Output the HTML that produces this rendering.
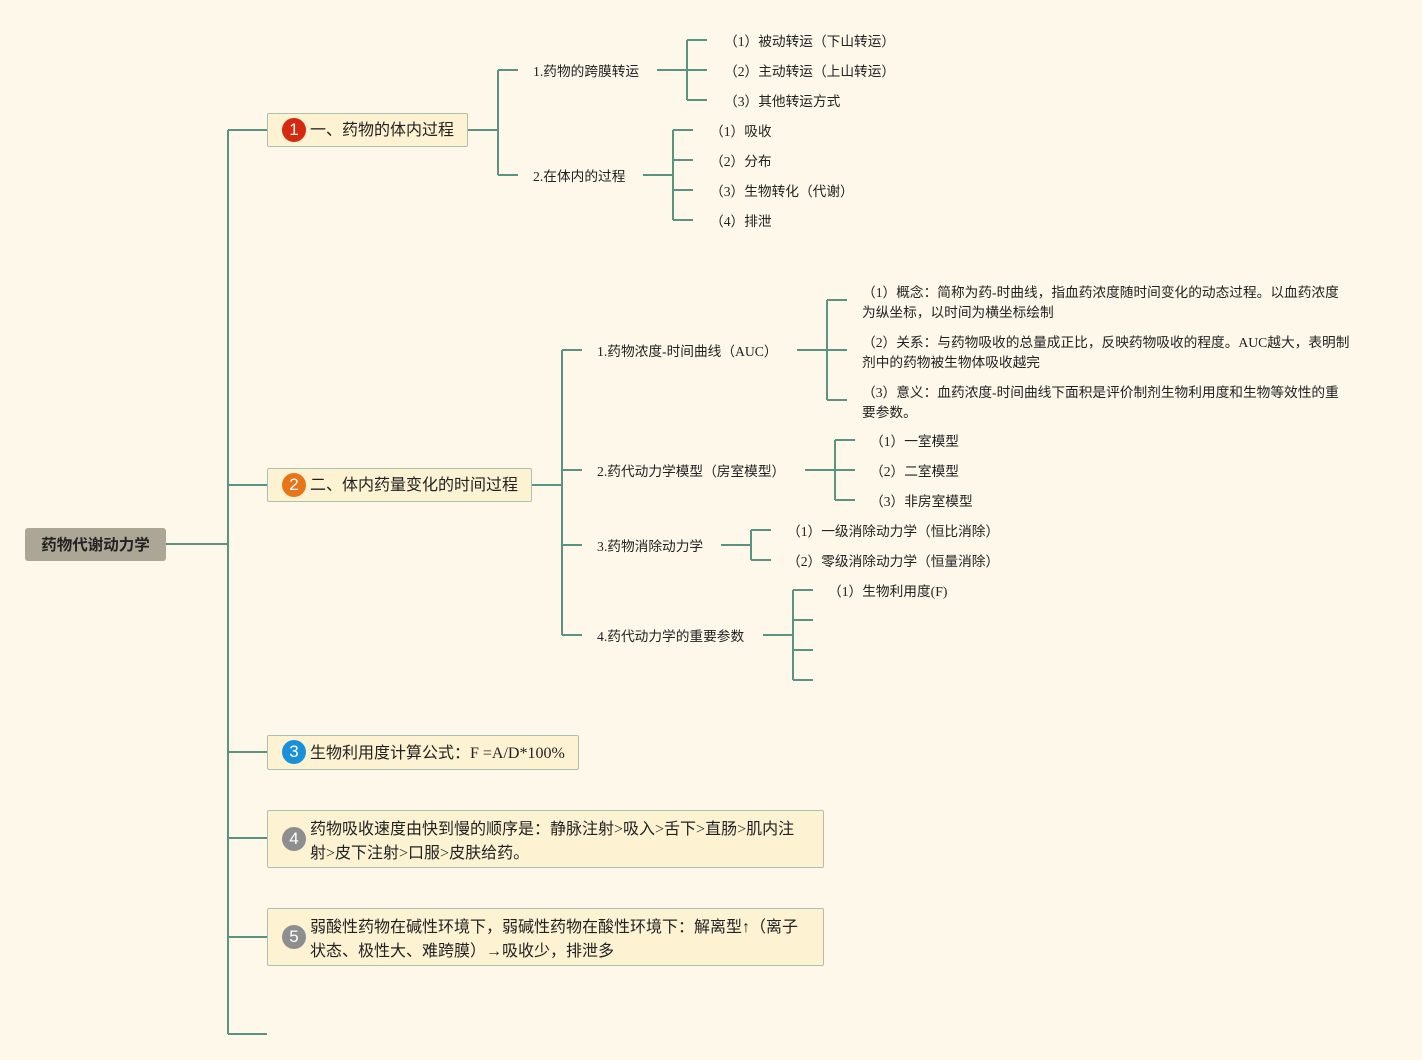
<!DOCTYPE html>
<html><head><meta charset="utf-8"><style>
body{margin:0;width:1422px;height:1060px;background:#fdf8ea;position:relative;overflow:hidden;font-family:"Liberation Serif","Noto Sans CJK SC",sans-serif;color:#222}
.t{position:absolute;font-size:13.7px;white-space:nowrap;line-height:20px;margin-top:2px}
.b{position:absolute;background:#fdf3d3;border:1.5px solid #a9c2b0;border-radius:2px;box-sizing:border-box;font-size:16px;line-height:24px}
.n{position:absolute;width:24px;height:24px;border-radius:50%;color:#fff;font-family:"Liberation Sans",sans-serif;font-size:17px;text-align:center;line-height:24px}
</style></head><body>
<svg width="1422" height="1060" style="position:absolute;left:0;top:0" fill="none" stroke="#5b9383" stroke-width="2">
<path d="M166 544H228M228 130V1034M228 130H267M228 485H267M228 752H267M228 838H267M228 937H267M228 1034H267"/>
<path d="M468 130H498M498 70V175M498 70H518M498 175H518"/>
<path d="M657 70H687M687 40V100M687 40H707M687 70H707M687 100H707"/>
<path d="M643 175H673M673 130V220M673 130H693M673 160H693M673 190H693M673 220H693"/>
<path d="M532 485H562M562 350V635M562 350H582M562 470H582M562 545H582M562 635H582"/>
<path d="M797 350H827M827 300V400M827 300H847M827 350H847M827 400H847"/>
<path d="M805 470H835M835 440V500M835 440H855M835 470H855M835 500H855"/>
<path d="M721 545H751M751 530V560M751 530H771M751 560H771"/>
<path d="M763 635H793M793 590V680M793 590H813M793 620H813M793 650H813M793 680H813"/>
</svg>
<div style="position:absolute;left:25px;top:528px;width:141px;height:33px;background:#aba696;border-radius:3px;font-weight:bold;font-size:15.5px;line-height:35px;text-align:center;font-family:'Liberation Sans','Noto Sans CJK SC',sans-serif">药物代谢动力学</div>

<div class="b" style="left:267px;top:113px;width:201px;height:34px;padding:5px 0 0 42px">一、药物的体内过程</div>
<div class="n" style="left:282px;top:118px;background:#d42a10">1</div>
<div class="b" style="left:267px;top:468px;width:265px;height:34px;padding:5px 0 0 42px">二、体内药量变化的时间过程</div>
<div class="n" style="left:282px;top:473px;background:#e8741a">2</div>
<div class="b" style="left:267px;top:735px;width:312px;height:35px;padding:6px 0 0 42px">生物利用度计算公式：F =A/D*100%</div>
<div class="n" style="left:282px;top:740px;background:#1a90d8">3</div>
<div class="b" style="left:267px;top:810px;width:557px;height:58px;padding:7px 0 0 42px">药物吸收速度由快到慢的顺序是：静脉注射&gt;吸入&gt;舌下&gt;直肠&gt;肌内注<br>射&gt;皮下注射&gt;口服&gt;皮肤给药。</div>
<div class="n" style="left:282px;top:827px;background:#8e8e8e">4</div>
<div class="b" style="left:267px;top:908px;width:557px;height:58px;padding:7px 0 0 42px">弱酸性药物在碱性环境下，弱碱性药物在酸性环境下：解离型↑（离子<br>状态、极性大、难跨膜）→吸收少，排泄多</div>
<div class="n" style="left:282px;top:925px;background:#8e8e8e">5</div>

<div class="t" style="left:533px;top:60px">1.药物的跨膜转运</div>
<div class="t" style="left:533px;top:165px">2.在体内的过程</div>
<div class="t" style="left:724px;top:30px">（1）被动转运（下山转运）</div>
<div class="t" style="left:724px;top:60px">（2）主动转运（上山转运）</div>
<div class="t" style="left:724px;top:90px">（3）其他转运方式</div>
<div class="t" style="left:710px;top:120px">（1）吸收</div>
<div class="t" style="left:710px;top:150px">（2）分布</div>
<div class="t" style="left:710px;top:180px">（3）生物转化（代谢）</div>
<div class="t" style="left:710px;top:210px">（4）排泄</div>

<div class="t" style="left:597px;top:340px">1.药物浓度-时间曲线（AUC）</div>
<div class="t" style="left:597px;top:460px">2.药代动力学模型（房室模型）</div>
<div class="t" style="left:597px;top:535px">3.药物消除动力学</div>
<div class="t" style="left:597px;top:625px">4.药代动力学的重要参数</div>
<div class="t" style="left:862px;top:281px">（1）概念：简称为药-时曲线，指血药浓度随时间变化的动态过程。以血药浓度<br>为纵坐标，以时间为横坐标绘制</div>
<div class="t" style="left:862px;top:331px">（2）关系：与药物吸收的总量成正比，反映药物吸收的程度。AUC越大，表明制<br>剂中的药物被生物体吸收越完</div>
<div class="t" style="left:862px;top:381px">（3）意义：血药浓度-时间曲线下面积是评价制剂生物利用度和生物等效性的重<br>要参数。</div>
<div class="t" style="left:870px;top:430px">（1）一室模型</div>
<div class="t" style="left:870px;top:460px">（2）二室模型</div>
<div class="t" style="left:870px;top:490px">（3）非房室模型</div>
<div class="t" style="left:787px;top:520px">（1）一级消除动力学（恒比消除）</div>
<div class="t" style="left:787px;top:550px">（2）零级消除动力学（恒量消除）</div>
<div class="t" style="left:828px;top:580px">（1）生物利用度(F)</div>
</body></html>
